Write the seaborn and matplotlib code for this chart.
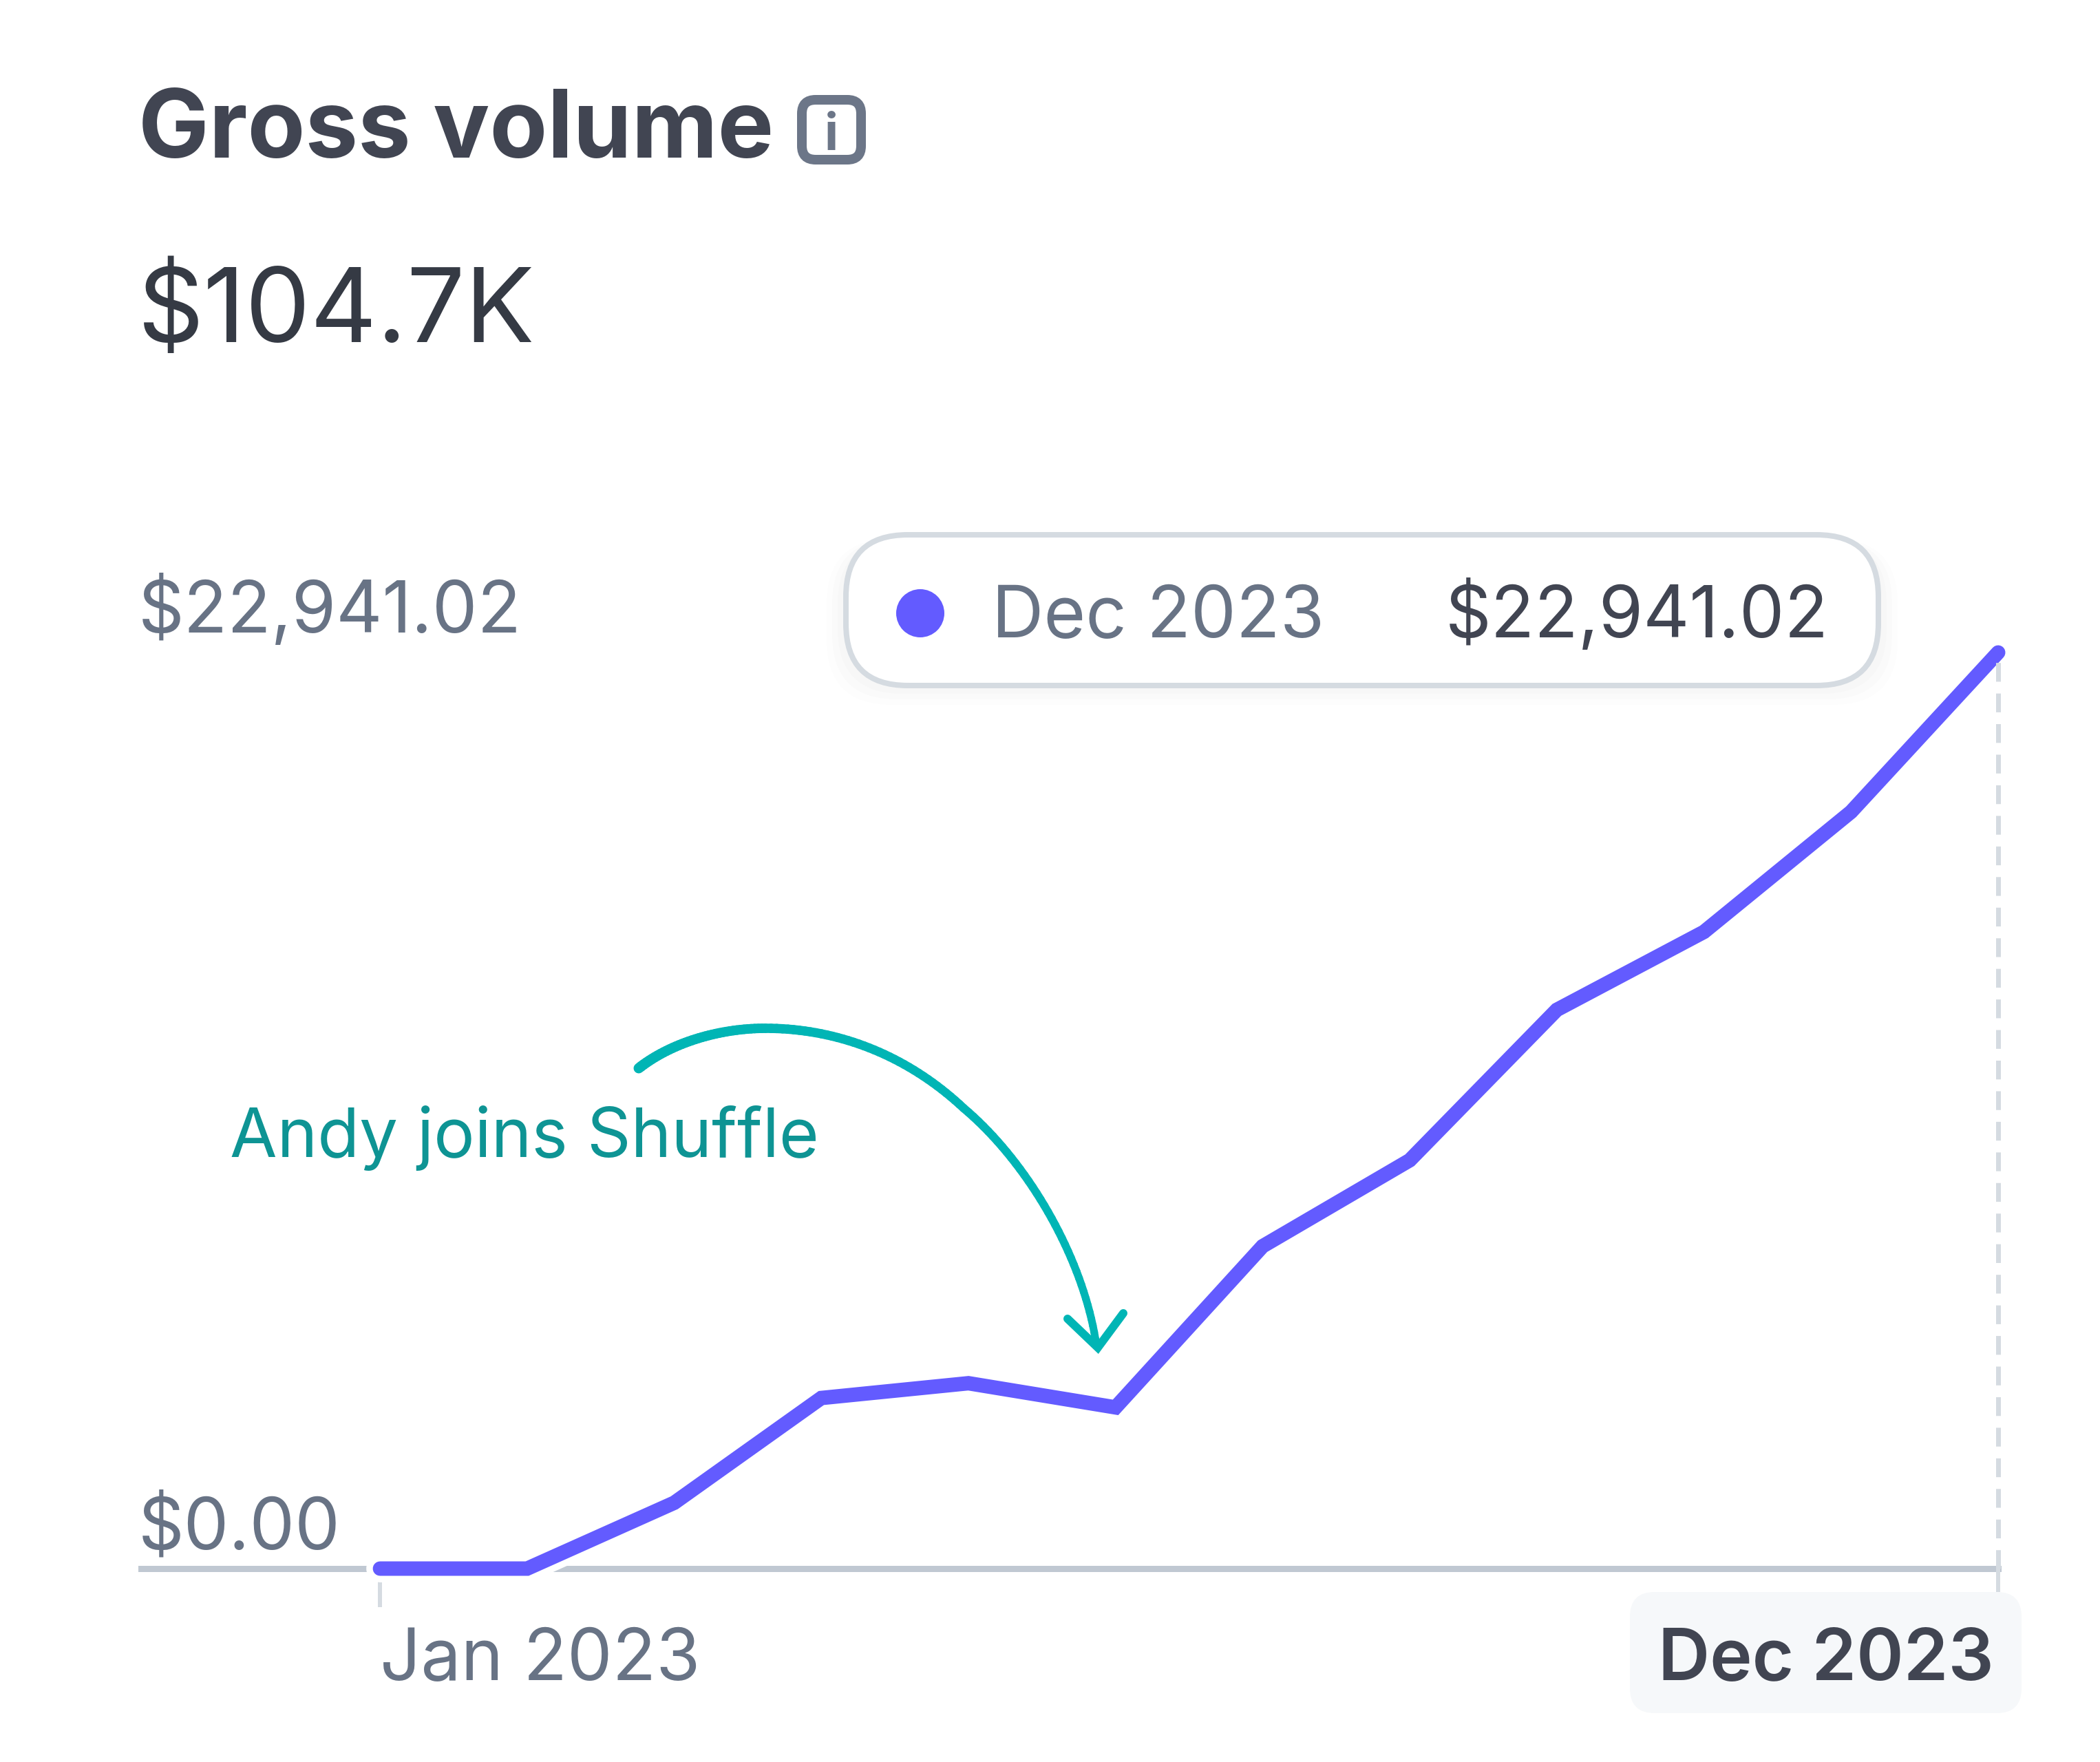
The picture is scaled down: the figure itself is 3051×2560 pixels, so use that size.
import numpy as np
import pandas as pd
import matplotlib
matplotlib.use("Agg")
import matplotlib.pyplot as plt
import matplotlib.patheffects as pe
from matplotlib.collections import LineCollection
from matplotlib.patches import Circle, FancyBboxPatch
from matplotlib.path import Path
from matplotlib.transforms import Affine2D
import seaborn as sns

# monthly gross volume
months = ["Jan 2023", "Feb 2023", "Mar 2023", "Apr 2023", "May 2023", "Jun 2023",
          "Jul 2023", "Aug 2023", "Sep 2023", "Oct 2023", "Nov 2023", "Dec 2023"]
volume = [0, 0, 1648, 4272, 4642, 4037, 8073, 10226, 13993, 15944, 18950, 22941.02]
y_ticks = [0, 22941.02]
y_labels = ["$0.00", "$22,941.02"]
title = "Gross volume"
total = "$104.7K"
note = "Andy joins Shuffle"

W, H = 3051, 2560
PT = 72 / 100  # pixels to points at dpi 100
PURPLE = "#635BFF"
SLATE = "#687385"
DARK = "#414552"
BASE = "#C0C8D2"
LIGHT = "#D5DBE1"
TEAL = "#00B5B5"

sns.set_theme(style="white")
plt.rcParams["font.family"] = ["Inter", "DejaVu Sans"]

fig = plt.figure(figsize=(W / 100, H / 100), dpi=100, facecolor="white")
# axes edges in pixels: left 205, right 2903, baseline 2279, top value 948
ax = fig.add_axes([205 / W, 1 - 2279 / H, (2903 - 205) / W, (2279 - 948) / H])
ax.patch.set_alpha(0)
ax.set_axisbelow(False)

df = pd.DataFrame({"month": months, "volume": volume})
sns.lineplot(data=df, x="month", y="volume", ax=ax, color=PURPLE, linewidth=21 * PT,
             solid_capstyle="round", solid_joinstyle="miter", zorder=3, clip_on=False,
             path_effects=[pe.Stroke(linewidth=40 * PT, foreground="white"), pe.Normal()])

step = (2902 - 552) / 11
ax.set_xlim((205 - 552) / step, 11)
ax.set_ylim(0, y_ticks[1])
ax.set_xlabel("")
ax.set_ylabel("")
sns.despine(ax=ax, left=True)
ax.spines["bottom"].set_color(BASE)
ax.spines["bottom"].set_linewidth(9 * PT)

# ticks
ax.set_xticks([0, 11], [months[0], months[11]])
ax.tick_params(axis="x", length=56 * PT, width=6 * PT, color=LIGHT, pad=106 * PT,
               labelsize=104 * PT, labelcolor=SLATE, bottom=True)
ax.xaxis.get_major_ticks()[1].tick1line.set_markersize(34 * PT)
ax.set_yticks(y_ticks, y_labels)
ax.tick_params(axis="y", length=0, pad=4 * PT, labelsize=104 * PT, labelcolor=SLATE)
up = Affine2D().translate(0, 29)
for lab in ax.get_yticklabels():
    lab.set_ha("left")
    lab.set_va("baseline")
    lab.set_transform(lab.get_transform() + up)
xlabs = ax.get_xticklabels()
for lab in xlabs:
    lab.set_va("baseline")
xlabs[0].set_ha("left")
xlabs[1].set_ha("right")
xlabs[1].set_color(DARK)
xlabs[1].set_fontweight("semibold")
xlabs[1].set_transform(xlabs[1].get_transform() + Affine2D().translate(-6, 0))

# dashed guide at the last month
ax.plot([11, 11], y_ticks, color=LIGHT, lw=7 * PT, linestyle=(0, (3.9, 2.45)),
        clip_on=False, zorder=3.5)

# everything below is placed in pixels measured from the top left
px = Affine2D().scale(1, -1).translate(0, H)


def label(x, y, s, size, color, weight="normal", **kw):
    ax.text(x, y, s, transform=px, fontsize=size * PT, color=color, fontweight=weight,
            va="baseline", clip_on=False, zorder=6, **kw)


def rbox(x0, y0, x1, y1, rad, **kw):
    box = FancyBboxPatch((x0 + rad, y0 + rad), x1 - x0 - 2 * rad, y1 - y0 - 2 * rad,
                         boxstyle=f"round,pad={rad},rounding_size={rad}", transform=px,
                         clip_on=False, **kw)
    ax.add_patch(box)


label(201, 229, title, 137, DARK, "bold")
label(200, 497, total, 150, "#353A44")

# info icon
rbox(1165, 145, 1251, 232, 20, facecolor="white", edgecolor="#6C7688", lw=14 * PT, zorder=5)
label(1208, 218, "i", 74, "#6C7688", "bold", ha="center")

# tooltip with soft shadow
for grow, alpha in [(24, 0.008), (16, 0.01), (8, 0.012)]:
    rbox(1225 - grow, 773 + 10, 2733 + grow, 1000 + grow, 94, facecolor="black",
         edgecolor="none", alpha=alpha, zorder=4.5)
rbox(1229, 777, 2729, 996, 90, facecolor="white", edgecolor=LIGHT, lw=8 * PT, zorder=5)
ax.add_patch(Circle((1337, 891), 35, transform=px, facecolor=PURPLE, edgecolor="none",
                    clip_on=False, zorder=6))
label(1441, 926, months[11], 104.5, SLATE)
label(2100, 926, y_labels[1], 104, DARK)

# box behind the last x label
rbox(2368, 2313, 2937, 2489, 36, facecolor="#F6F8FA", edgecolor="none", zorder=2.2)

# annotation
label(334, 1681, note, 99.5, "#0E9494")
arrow = Path([(928, 1552), (975, 1515), (1045, 1494), (1112, 1494),
              (1220, 1494), (1320, 1535), (1400, 1610),
              (1495, 1690), (1575, 1830), (1593, 1955)],
             [Path.MOVETO] + [Path.CURVE4] * 9)
curve = np.vstack([c(np.linspace(0, 1, 40)) for c, _ in arrow.iter_bezier() if len(c.control_points) == 4])
segs = np.stack([curve[:-1], curve[1:]], axis=1)
ax.add_collection(LineCollection(segs, colors=TEAL, transform=px, clip_on=False, zorder=6,
                                 linewidths=np.linspace(15, 11, len(segs)) * PT,
                                 capstyle="round"), autolim=False)
ax.plot([1551, 1595, 1632], [1916, 1958, 1908], transform=px, color=TEAL, lw=12 * PT,
        solid_capstyle="round", solid_joinstyle="miter", clip_on=False, zorder=6)

fig.savefig("out.png", dpi=100, facecolor="white")
